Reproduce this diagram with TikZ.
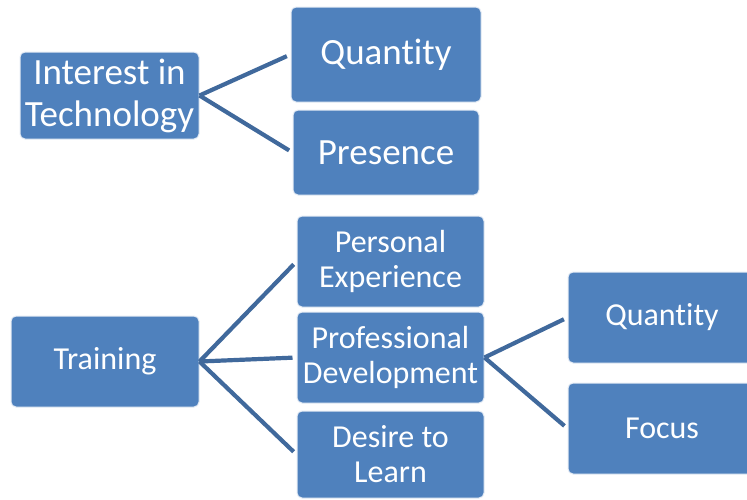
\documentclass[tikz,border=0pt]{standalone}
\usepackage{fontspec}
\setmainfont[Ligatures=CommonOff]{Carlito}
\definecolor{boxblue}{RGB}{79,129,189}
\definecolor{linkblue}{RGB}{64,105,156}
\begin{document}
\begin{tikzpicture}[x=1pt,y=-1pt,
  card/.style={draw=white!85!boxblue, line width=1pt, fill=boxblue, rounded corners=5pt,
    text=white, align=center, inner sep=0pt},
  big/.style={card, font=\fontsize{37}{42}\selectfont},
  small/.style={card, font=\fontsize{32}{35}\selectfont},
  link/.style={draw=linkblue, line width=4.2pt, shorten >=4pt}]
\useasboundingbox (0,0) rectangle (747,499);
\clip (0,0) rectangle (747,499);

% upper branch
\node[big, minimum width=179pt, minimum height=87pt] (tech) at (109.5,95.5) {Interest in\\Technology};
\node[big, minimum width=190pt, minimum height=95pt] (qty) at (386,54.5) {Quantity};
\node[big, minimum width=186pt, minimum height=85pt] (pres) at (386,152.5) {Presence};

% lower branch
\node[small, minimum width=188pt, minimum height=91pt] (train) at (105,361.5) {Training};
\node[small, minimum width=187pt, minimum height=91pt] (pers) at (390.5,261.5) {Personal\\Experience};
\node[small, minimum width=187pt, minimum height=91pt] (prof) at (390.5,357.5) {Professional\\Development};
\node[small, minimum width=187pt, minimum height=87pt] (desire) at (390.5,454.5) {Desire to\\Learn};

% third level
\node[small, minimum width=188pt, minimum height=91pt] (pdqty) at (662,317.5) {Quantity};
\node[small, minimum width=188pt, minimum height=91pt] (focus) at (662,428.5) {Focus};

% connectors
\draw[link] (tech.east) -- (qty.west);
\draw[link] (tech.east) -- (pres.west);
\draw[link] (train.east) -- (pers.west);
\draw[link] (train.east) -- (prof.west);
\draw[link] (train.east) -- (desire.west);
\draw[link] (prof.east) -- (pdqty.west);
\draw[link] (prof.east) -- (focus.west);
\end{tikzpicture}
\end{document}
